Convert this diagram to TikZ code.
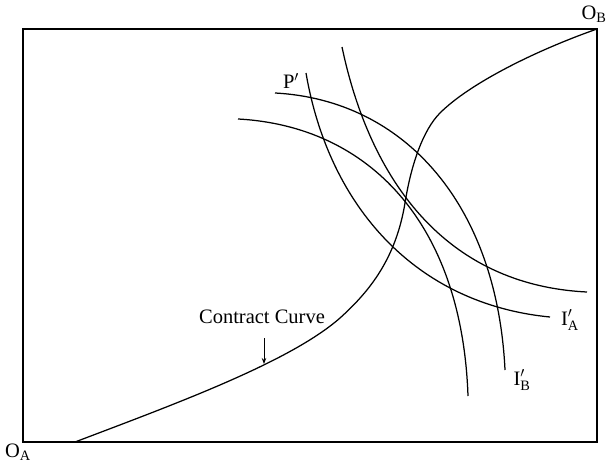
\documentclass[tikz,border=0pt]{standalone}
\usepackage{fontspec}
\setmainfont{Liberation Serif}
\usetikzlibrary{arrows.meta,positioning}

\begin{document}
\begin{tikzpicture}[x=1pt,y=-1pt,
  every node/.style={font=\fontsize{20.5}{24}\selectfont,inner sep=0pt},
  icurve/.style={line width=1.25pt}]
  \useasboundingbox (0,0) rectangle (607,466);
  % Box and origins
  \draw[line width=1.15pt] (23,29) rectangle (597,442);
  \node (oa) at (18,452) {O$_{\mathrm{A}}$};
  \node (ob) at (594,14) {O$_{\mathrm{B}}$};
  % Contract curve
  \draw[icurve] (75,442) .. controls (175,404) and (290,362) .. (340,318)
    .. controls (370,291) and (396,258) .. (405,203)
    .. controls (411,165) and (423,130) .. (440,113)
    .. controls (470,83) and (537,50) .. (597,29);
  \node (cclabel) at (262,317) {Contract Curve};
  \coordinate (cctop) at (264,338);
  \coordinate (cc) at (264,364);
  \draw[line width=1pt,-{Stealth[length=6pt,width=4.5pt]}] (cctop) -- (cc);
  % Indifference curves of B
  \draw[icurve] (275,93) .. controls (405,100) and (497,205) .. (505,370);
  \draw[icurve] (238,119) .. controls (368,126) and (462,222) .. (468,396);
  % Indifference curves of A
  \draw[icurve] (306,73) .. controls (329,207) and (416,304) .. (550,317);
  \draw[icurve] (342,47) .. controls (370,180) and (445,285) .. (587,292);
  % Labels
  \node (pprime) at (291,81) {P$'$};
  \node (ia) at (570,320) {I$'_{\mathrm{A}}$};
  \node (ib) at (522,380) {I$'_{\mathrm{B}}$};
\end{tikzpicture}
\end{document}
